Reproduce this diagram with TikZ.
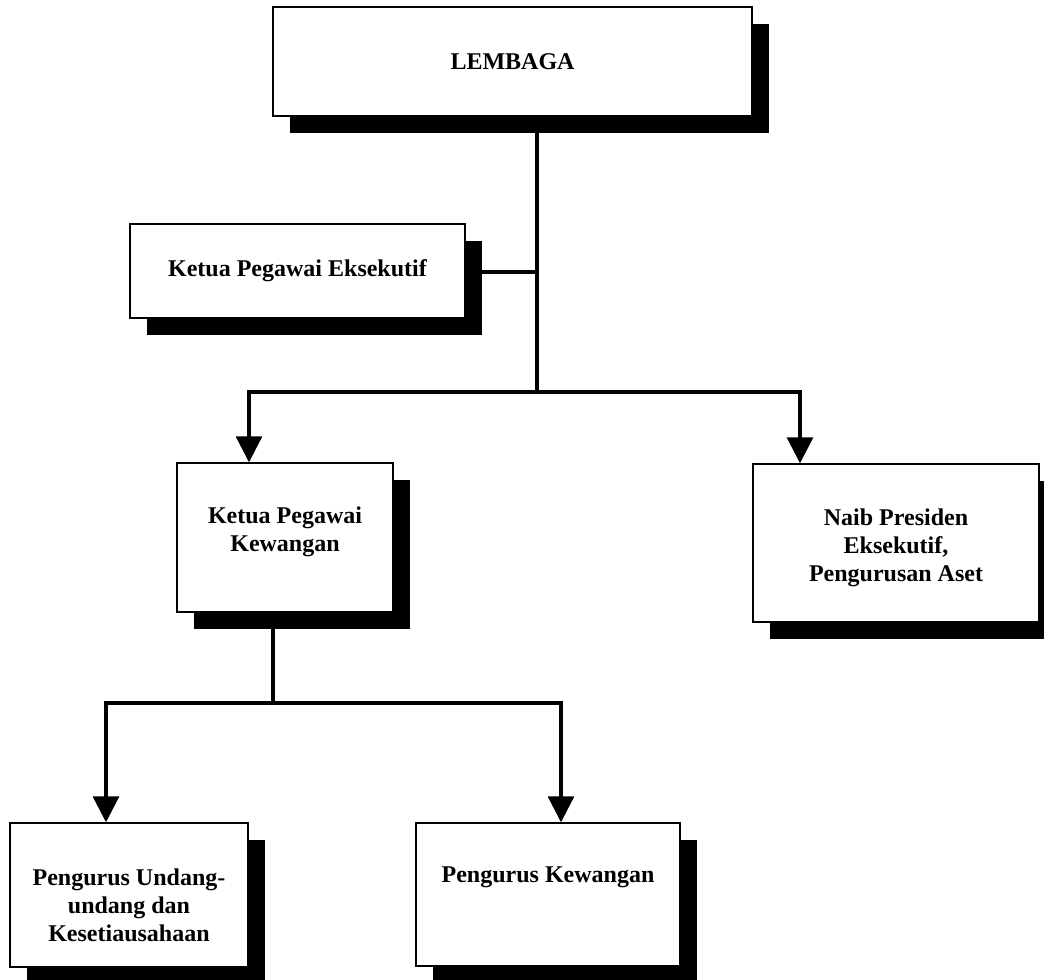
\documentclass[tikz,border=0pt]{standalone}
\usepackage{fontspec}
\setmainfont{Liberation Serif}
\usetikzlibrary{arrows.meta,shadows}
\begin{document}
\begin{tikzpicture}[x=0.75pt,y=-0.75pt,
  orgbox/.style={draw, line width=1.1pt, fill=white, align=center, inner sep=0pt,
    font=\fontsize{18}{21}\selectfont\bfseries,
    drop shadow={shadow xshift=12.75pt, shadow yshift=-12.75pt, fill=black, opacity=1}},
  lbl/.style={align=center, font=\fontsize{18}{21}\selectfont\bfseries},
  conn/.style={line width=2.4pt},
  arr/.style={line width=2.4pt, -{Triangle[width=19.5pt,length=19.5pt]}}]
\useasboundingbox (0,0) rectangle (1044,979);
% boxes
\node[orgbox, minimum width=359.25pt, minimum height=81.75pt] (lem) at (512.5,61.5) {LEMBAGA};
\node[orgbox, minimum width=251.25pt, minimum height=70.5pt] (cee) at (297.5,271) {Ketua Pegawai Eksekutif};
\node[orgbox, minimum width=162pt, minimum height=111.75pt] (kpk) at (285,537.5) {};
\node[lbl] (kpkt) at (285,532) {Ketua Pegawai\\Kewangan};
\node[orgbox, minimum width=214.5pt, minimum height=118.5pt] (naib) at (896,543) {};
\node[lbl] (naibt) at (896,548) {Naib Presiden\\Eksekutif,\\Pengurusan Aset};
\node[orgbox, minimum width=178.5pt, minimum height=108pt] (pul) at (129,895) {};
\node[lbl] (pult) at (129,905) {Pengurus Undang-\\undang dan\\Kesetiausahaan};
\node[orgbox, minimum width=198pt, minimum height=107.25pt] (pkw) at (548,894.5) {};
\node[lbl] (pkwt) at (548,877) {Pengurus Kewangan};
% junctions
\coordinate (top) at (537,116);
\coordinate (jc) at (537,272);
\coordinate (jm) at (537,392);
\coordinate (jl) at (249,392);
\coordinate (jr) at (800,392);
\coordinate (kb) at (273,612);
\coordinate (kj) at (273,703);
\coordinate (kl) at (106,703);
\coordinate (kr) at (561,703);
% connectors
\draw[conn] (top) -- (jm);
\draw[conn] (cee.east |- jc) -- (jc);
\draw[conn, line cap=rect] (jl) -- (jr);
\draw[arr] (jl) -- (jl |- kpk.north);
\draw[arr] (jr) -- (jr |- naib.north);
\draw[conn] (kb) -- (kj);
\draw[conn, line cap=rect] (kl) -- (kr);
\draw[arr] (kl) -- (kl |- pul.north);
\draw[arr] (kr) -- (kr |- pkw.north);
\end{tikzpicture}
\end{document}
